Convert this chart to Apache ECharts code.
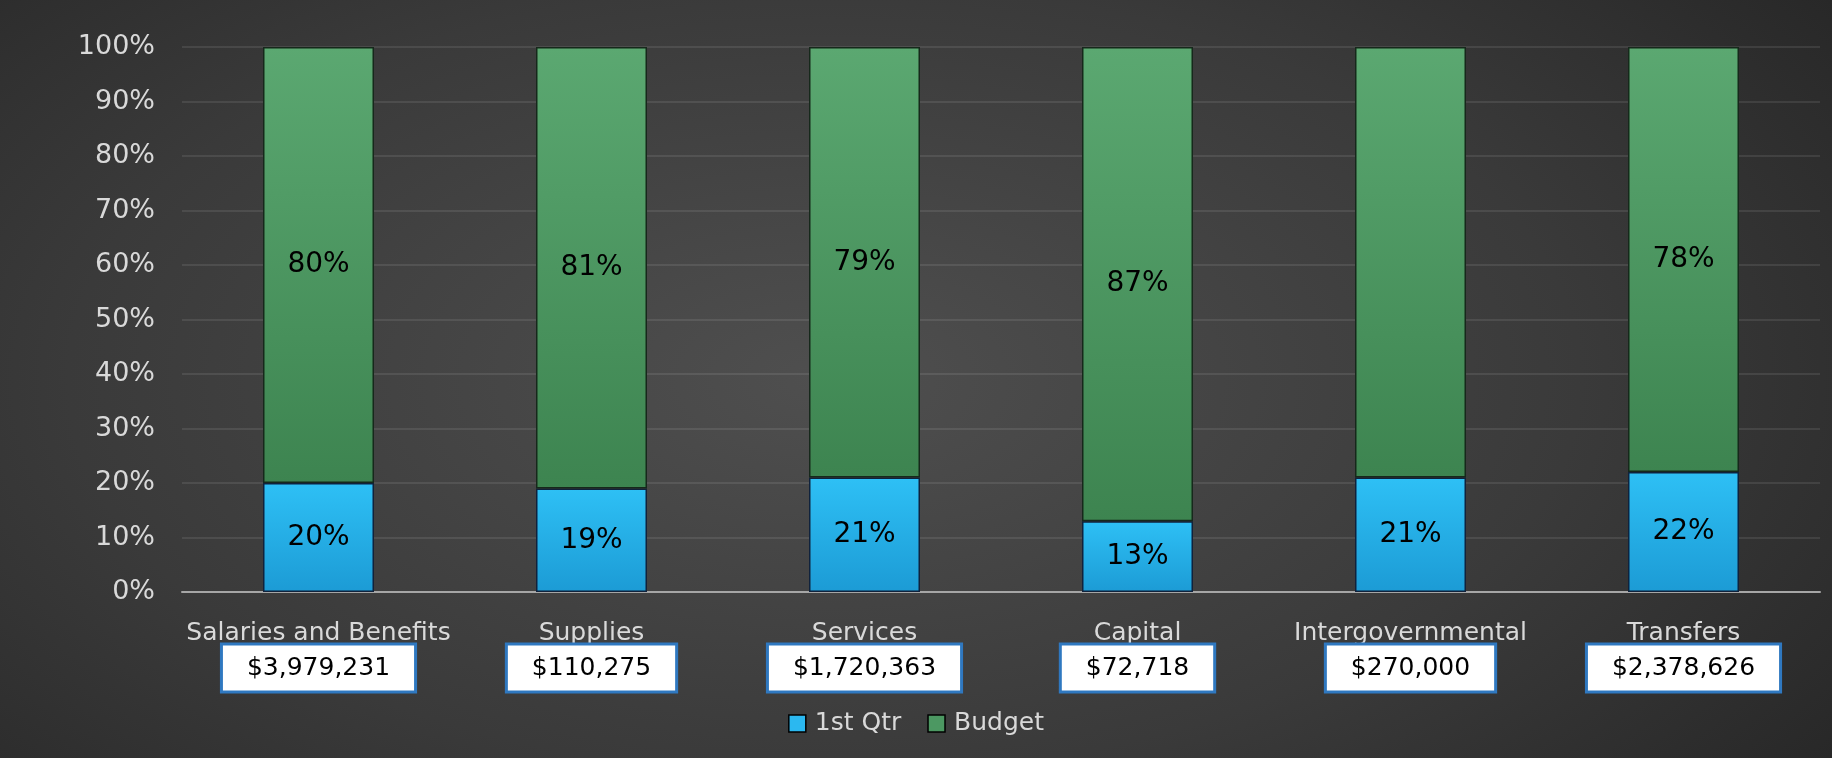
<!DOCTYPE html>
<html>
<head>
<meta charset="utf-8">
<script src="https://cdn.jsdelivr.net/npm/echarts@6/dist/echarts.min.js"></script>
<style>
  html, body { margin: 0; padding: 0; }
  body {
    width: 1832px; height: 758px; overflow: hidden;
    background: radial-gradient(ellipse 75% 95% at 45% 50%, #4f4f4f 0%, #3a3a3a 55%, #232323 100%);
  }
  #chart { width: 1832px; height: 758px; }
</style>
</head>
<body>
<div id="chart"></div>
<script>
// 分类与数值
const categories = ['Salaries and Benefits', 'Supplies', 'Services', 'Capital', 'Intergovernmental', 'Transfers'];
const amounts = ['$3,979,231', '$110,275', '$1,720,363', '$72,718', '$270,000', '$2,378,626'];
const qtrPct = [20, 19, 21, 13, 21, 22];
const budgetPct = [80, 81, 79, 87, 79, 78];
const budgetLabelShown = [true, true, true, true, false, true];

const FONT = 'DejaVu Sans';
const LIGHT = '#d9d9d9';

const chart = echarts.init(document.getElementById('chart'), null, { renderer: 'canvas' });

const blueFill = new echarts.graphic.LinearGradient(0, 0, 0, 1, [
    { offset: 0, color: '#2ec0f5' },
    { offset: 1, color: '#1c9bd5' }
]);
const greenFill = new echarts.graphic.LinearGradient(0, 0, 0, 1, [
    { offset: 0, color: '#5ba871' },
    { offset: 1, color: '#3d8450' }
]);

chart.setOption({
    backgroundColor: 'transparent',
    textStyle: { fontFamily: FONT },
    animation: false,
    grid: { left: 182, right: 12, top: 47, bottom: 166, containLabel: false },
    legend: {
        top: 706, left: 'center',
        itemWidth: 17, itemHeight: 17, itemGap: 26,
        icon: 'rect',
        textStyle: { color: LIGHT, fontSize: 25, fontFamily: FONT, padding: [0, 0, 0, 4] },
        data: [
            { name: '1st Qtr', itemStyle: { color: '#2bb8f0', borderColor: '#000', borderWidth: 1.5 } },
            { name: 'Budget', itemStyle: { color: '#4c9862', borderColor: '#000', borderWidth: 1.5 } }
        ]
    },
    xAxis: {
        type: 'category',
        data: categories,
        axisLine: { lineStyle: { color: '#a6a6a6', width: 2 } },
        axisTick: { show: false },
        axisLabel: {
            interval: 0,
            margin: 21,
            formatter: (v, i) => `{cat|${v}}\n{box|${amounts[i]}}`,
            rich: {
                cat: { fontSize: 25, lineHeight: 41, color: LIGHT, fontFamily: FONT },
                box: {
                    fontSize: 25, lineHeight: 28, color: '#000', fontFamily: FONT,
                    backgroundColor: '#fff', borderColor: '#2f78c0', borderWidth: 3,
                    padding: [10, 24]
                }
            }
        }
    },
    yAxis: {
        type: 'value', min: 0, max: 100, interval: 10,
        axisLine: { show: false },
        axisTick: { show: false },
        axisLabel: { formatter: '{value}%', fontSize: 27, color: LIGHT, margin: 27, fontFamily: FONT },
        splitLine: { lineStyle: { color: 'rgba(255,255,255,0.12)', width: 1.5 } }
    },
    series: [
        {
            name: '1st Qtr', type: 'bar', stack: 'total', barWidth: 111,
            itemStyle: { color: blueFill, borderColor: '#10223c', borderWidth: 1.5 },
            label: { show: true, position: 'inside', formatter: '{c}%', color: '#000', fontSize: 28, fontFamily: FONT },
            data: qtrPct
        },
        {
            name: 'Budget', type: 'bar', stack: 'total', barWidth: 111,
            itemStyle: { color: greenFill, borderColor: '#16281b', borderWidth: 1.5 },
            label: { show: true, position: 'inside', formatter: '{c}%', color: '#000', fontSize: 28, fontFamily: FONT },
            data: budgetPct.map((v, i) => budgetLabelShown[i] ? v : { value: v, label: { show: false } })
        }
    ]
});

window.addEventListener('resize', () => chart.resize());
</script>
</body>
</html>
